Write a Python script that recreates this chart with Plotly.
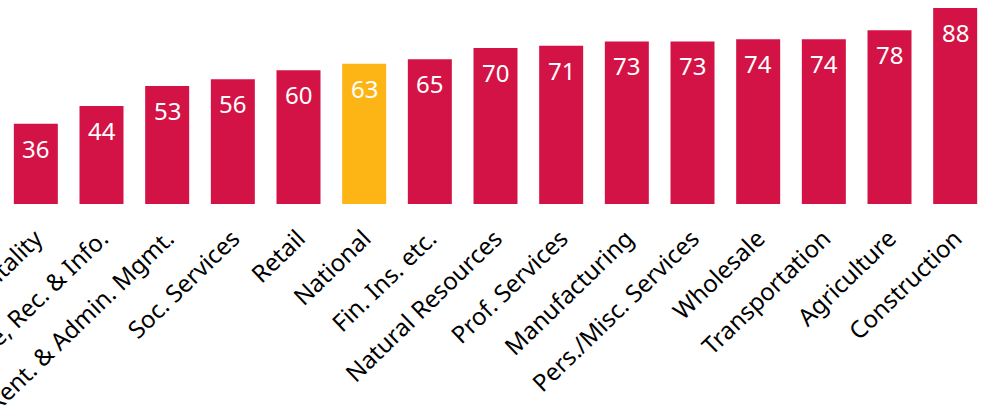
import plotly.graph_objects as go

categories = ["Hospitality", "Culture, Rec. & Info.", "Real Estate, Rent. & Admin. Mgmt.",
              "Soc. Services", "Retail", "National", "Fin. Ins. etc.", "Natural Resources",
              "Prof. Services", "Manufacturing", "Pers./Misc. Services", "Wholesale",
              "Transportation", "Agriculture", "Construction"]
values = [36, 44, 53, 56, 60, 63, 65, 70, 71, 73, 73, 74, 74, 78, 88]
highlight = "National"

RED = "#D31345"
YELLOW = "#FDB515"
colors = [YELLOW if c == highlight else RED for c in categories]

fig = go.Figure()
fig.add_trace(go.Bar(
    x=categories, y=values, marker=dict(color=colors, line=dict(width=0)),
    hoverinfo="skip",
))

for c, v in zip(categories, values):
    fig.add_annotation(x=c, y=v, text=str(v), showarrow=False, yanchor="top",
                       xanchor="center", yshift=-6,
                       font=dict(color="white", size=24, family="Noto Sans"))

fig.update_layout(
    width=988, height=410,
    margin=dict(l=3, r=0, t=8, b=206, pad=0),
    paper_bgcolor="white", plot_bgcolor="white",
    bargap=0.33, showlegend=False,
    font=dict(family="Noto Sans", color="black"),
    xaxis=dict(tickangle=-44, automargin=False, showgrid=False, showline=False,
               zeroline=False, ticks="outside", ticklen=10, tickcolor="rgba(0,0,0,0)",
               tickfont=dict(size=24, family="Noto Sans", color="black"),
               range=[-0.5, 14.5]),
    yaxis=dict(visible=False, range=[0, 88], automargin=False),
)

fig.write_html("out.html")
